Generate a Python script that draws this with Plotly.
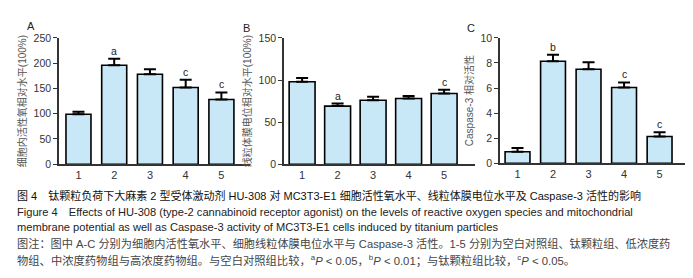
import plotly.graph_objects as go

W, H = 693, 278

groups = [1, 2, 3, 4, 5]
tick_labels = ["1", "2", "3", "4", "5"]

ros_values = [99, 196, 178, 152, 128]
ros_err_top = [104, 209, 188, 167, 142]
ros_marks = ["", "a", "", "c", "c"]

mmp_values = [98, 69, 76, 78, 84]
mmp_err_top = [102.5, 72, 80, 81, 88.5]
mmp_marks = ["", "a", "", "", "c"]

casp_values = [0.92, 8.14, 7.5, 6.05, 2.14]
casp_err_top = [1.22, 8.65, 8.05, 6.45, 2.47]
casp_marks = ["", "b", "", "c", "c"]

panels = [
    dict(label="A", vals=ros_values, err=ros_err_top, marks=ros_marks,
         title="细胞内活性氧相对水平(100%)", yr=[0, 250], dt=50,
         xd=(51, 242), yd=(157, 25), xr=[0.455, 5.8], bw=0.7,
         lab=(23, 13), so=5),
    dict(label="B", vals=mmp_values, err=mmp_err_top, marks=mmp_marks,
         title="线粒体膜电位相对水平(100%)", yr=[0, 150], dt=50,
         xd=(276, 467), yd=(157, 25), xr=[0.49, 5.87], bw=0.73,
         lab=(238, 15), so=5),
    dict(label="C", vals=casp_values, err=casp_err_top, marks=casp_marks,
         title="Caspase-3 相对活性", yr=[0, 10], dt=2,
         xd=(492, 680), yd=(156, 25), xr=[0.507, 5.8], bw=0.7,
         lab=(463, 15), so=5),
]

MIX = "Liberation Sans, Arial, Noto Sans CJK SC, sans-serif"
LAT = "Liberation Sans, Arial, sans-serif"

def px(x):
    return x / W

def py(y):
    return 1 - y / H

fig = go.Figure()
annotations = []
layout = {}

for i, p in enumerate(panels):
    n = "" if i == 0 else str(i + 1)
    xa, ya = "x" + n, "y" + n
    fig.add_trace(go.Bar(
        x=groups, y=p["vals"], width=p["bw"], xaxis=xa, yaxis=ya,
        marker=dict(color="#c8e8f8", line=dict(color="black", width=1.6)),
        error_y=dict(type="data", symmetric=False,
                     array=[e - v for e, v in zip(p["err"], p["vals"])],
                     arrayminus=[0] * 5, color="black", thickness=2, width=6),
        showlegend=False,
    ))
    layout["xaxis" + n] = dict(
        domain=[px(p["xd"][0]), px(p["xd"][1])], range=p["xr"], anchor=ya,
        tickvals=groups, ticktext=tick_labels, ticks="", showline=True,
        linecolor="#333", linewidth=1.5, showgrid=False, zeroline=False,
        tickfont=dict(family=LAT, size=11, color="#333"), fixedrange=True)
    layout["yaxis" + n] = dict(
        domain=[py(p["yd"][0]), py(p["yd"][1])], range=p["yr"], anchor=xa,
        dtick=p["dt"], ticks="outside", ticklen=4, tickcolor="#333",
        tickwidth=1.2, showline=True, linecolor="#333", linewidth=1.5,
        showgrid=False, zeroline=False,
        title=dict(text=p["title"], standoff=p["so"],
                   font=dict(family=MIX, size=10, color="#555")),
        tickfont=dict(family=LAT, size=10.5, color="#333"), fixedrange=True)
    annotations.append(dict(text=p["label"], x=px(p["lab"][0]), y=py(p["lab"][1]),
                            xref="paper", yref="paper", showarrow=False,
                            xanchor="center", yanchor="middle",
                            font=dict(family=LAT, size=11, color="#222")))
    for g, e, m in zip(groups, p["err"], p["marks"]):
        if m:
            annotations.append(dict(text=m, x=g, y=e, xref=xa, yref=ya,
                                    showarrow=False, xanchor="center",
                                    yanchor="bottom", yshift=0,
                                    font=dict(family=LAT, size=10.5, color="#222")))

captions = [
    (190, "图 4　钛颗粒负荷下大麻素 2 型受体激动剂 HU-308 对 MC3T3-E1 细胞活性氧水平、线粒体膜电位水平及 Caspase-3 活性的影响", "#111", 11),
    (207, "Figure 4　Effects of HU-308 (type-2 cannabinoid receptor agonist) on the levels of reactive oxygen species and mitochondrial", "#222", 11.1),
    (223, "membrane potential as well as Caspase-3 activity of MC3T3-E1 cells induced by titanium particles", "#222", 11.1),
    (240, "图注：图中 A-C 分别为细胞内活性氧水平、细胞线粒体膜电位水平与 Caspase-3 活性。1-5 分别为空白对照组、钛颗粒组、低浓度药", "#444", 11.2),
    (257, "物组、中浓度药物组与高浓度药物组。与空白对照组比较，<sup>a</sup><i>P</i> < 0.05，<sup>b</sup><i>P</i> < 0.01；与钛颗粒组比较，<sup>c</sup><i>P</i> < 0.05。", "#444", 11.3),
]
for yy, t, c, s in captions:
    annotations.append(dict(text=t, x=px(7), y=py(yy), xref="paper", yref="paper",
                            xanchor="left", yanchor="middle", showarrow=False,
                            font=dict(family=MIX, size=s, color=c)))

fig.update_layout(width=W, height=H, margin=dict(l=0, r=0, t=0, b=0),
                  paper_bgcolor="white", plot_bgcolor="white",
                  annotations=annotations, bargap=0.3, **layout)

fig.write_html("out.html", config={"displayModeBar": False})
